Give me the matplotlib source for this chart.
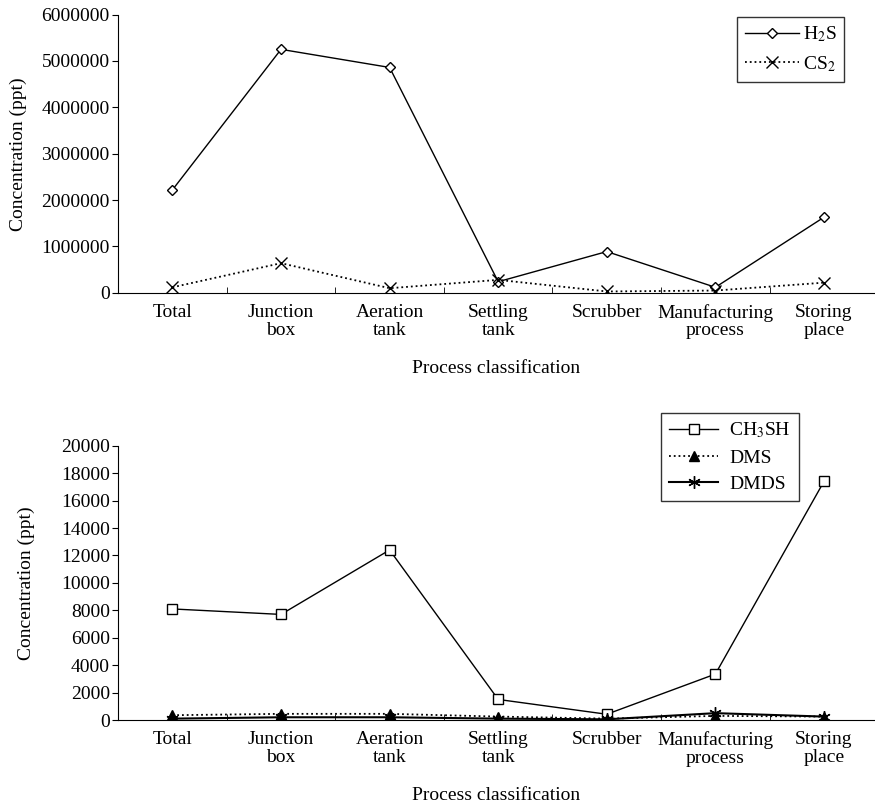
import matplotlib.pyplot as plt
import numpy as np
from matplotlib.ticker import ScalarFormatter

plt.rcParams['font.family'] = ['Liberation Serif', 'DejaVu Serif']
plt.rcParams['mathtext.fontset'] = 'stix'
plt.rcParams['font.size'] = 14

# 数据
categories = ["Total", "Junction\nbox", "Aeration\ntank", "Settling\ntank",
              "Scrubber", "Manufacturing\nprocess", "Storing\nplace"]
h2s = [2220000, 5250000, 4860000, 240000, 890000, 120000, 1630000]
cs2 = [120000, 640000, 100000, 280000, 30000, 50000, 220000]
ch3sh = [8100, 7700, 12400, 1500, 420, 3350, 17400]
dms = [350, 450, 450, 250, 100, 300, 250]
dmds = [100, 200, 200, 100, 50, 500, 250]

x = np.arange(len(categories))

fig = plt.figure(figsize=(8.75, 8.09), dpi=100)
ax1 = fig.add_axes([0.135, 0.638, 0.865, 0.344])
ax2 = fig.add_axes([0.135, 0.110, 0.865, 0.339])


def style(ax, ymax, step, ylab_x):
    ax.set_xlim(-0.5, 6.47)
    ax.set_ylim(0, ymax)
    ax.set_yticks(np.arange(0, ymax + 1, step))
    fmt = ScalarFormatter(useOffset=False)
    fmt.set_scientific(False)
    ax.yaxis.set_major_formatter(fmt)
    ax.set_xticks(x)
    ax.set_xticklabels(categories, linespacing=1.05)
    ax.tick_params(axis='x', which='major', length=0, pad=8)
    ax.set_xticks(x[:-1] + 0.5, minor=True)
    ax.tick_params(axis='x', which='minor', direction='in', length=4)
    ax.tick_params(axis='y', direction='out', length=4, pad=2)
    ax.spines['top'].set_visible(False)
    ax.spines['right'].set_visible(False)
    ax.set_ylabel("Concentration (ppt)")
    ax.yaxis.set_label_coords(ylab_x, 0.5)
    ax.set_xlabel("Process classification", labelpad=15)


ax1.plot(x, h2s, '-', color='black', lw=1, marker='D', ms=5.5, mfc='white', mec='black', label=r'H$_2$S')
ax1.plot(x, cs2, ':', color='black', lw=1.3, marker='x', ms=8, mec='black', label=r'CS$_2$')
style(ax1, 6000000, 1000000, -0.12)
ax1.legend(loc='upper right', bbox_to_anchor=(0.965, 0.979), bbox_transform=fig.transFigure,
           borderaxespad=0, frameon=True, fancybox=False, edgecolor='black', handlelength=2.8,
           borderpad=0.4, labelspacing=0.5, handletextpad=0.2)

ax2.plot(x, ch3sh, '-', color='black', lw=1, marker='s', ms=7, mfc='white', mec='black', label=r'CH$_3$SH')
ax2.plot(x, dms, ':', color='black', lw=1.3, marker='^', ms=7, mfc='black', mec='black', label='DMS')
ax2.plot(x, dmds, '-', color='black', lw=1.5, marker=(6, 2, 0), ms=9, mec='black', label='DMDS')
style(ax2, 20000, 2000, -0.11)
ax2.legend(loc='upper right', bbox_to_anchor=(0.913, 0.4895), bbox_transform=fig.transFigure,
           borderaxespad=0, frameon=True, fancybox=False, edgecolor='black', handlelength=2.5,
           borderpad=0.4, labelspacing=0.45, handletextpad=0.6)

fig.savefig('out.png', dpi=100)
